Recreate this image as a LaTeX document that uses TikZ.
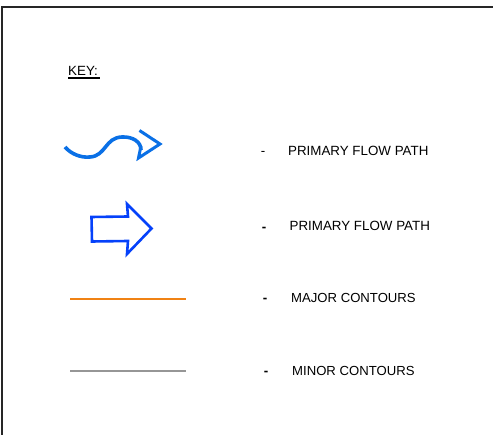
\documentclass[tikz,border=0pt]{standalone}
\usepackage{fontspec}
\setmainfont{Liberation Sans}
\definecolor{wavecol}{RGB}{10,112,230}
\definecolor{blockblue}{RGB}{5,65,250}
\definecolor{orangeline}{RGB}{240,130,20}
\definecolor{greyline}{RGB}{150,150,150}
\tikzset{
  lab/.style={inner sep=0pt,anchor=west,font=\fontsize{13.35}{15}\selectfont},
  labsmall/.style={inner sep=0pt,anchor=west,font=\fontsize{13.13}{15}\selectfont},
  dashmark/.style={inner sep=0pt,anchor=center,font=\fontsize{13.35}{15}\selectfont\bfseries},
  thindash/.style={inner sep=0pt,anchor=center,font=\fontsize{13.35}{15}\selectfont},
}
\begin{document}
\begin{tikzpicture}[x=1pt,y=-1pt]
\useasboundingbox (0,0) rectangle (493,435);
\fill[white] (0,0) rectangle (493,435);
\draw[line width=2pt,black!85] (1.5,435) -- (1.5,7) -- (493,7);
\node[lab] (key) at (68,70.5) {KEY:};
\fill[black] (67.5,77) rectangle (99.5,79);
% curved arrow
\draw[wavecol,line width=3.6pt] (65,147) .. controls (71,154) and (81,158) .. (90,157)
  .. controls (106,156) and (105,137.5) .. (122,137)
  .. controls (133,136.5) and (141,142) .. (141,150);
\draw[wavecol,line width=3pt,line join=miter] (139.5,130.5) -- (160,144) -- (138.5,158) -- (141,146);
% block arrow
\draw[blockblue,line width=2.6pt,line join=miter] (91.5,217) -- (128,216.5) -- (127,204) -- (151.5,228.5) -- (127,254) -- (128,241) -- (92,241.5) -- cycle;
% contours
\fill[orangeline] (70,298.5) rectangle (186,300.5);
\fill[greyline] (70,370) rectangle (186,372);
% dashes
\node[thindash] (d1) at (263,153) {-};
\node[dashmark] (d2) at (264,229) {-};
\node[dashmark] (d3) at (265,300) {-};
\node[dashmark] (d4) at (266,373) {-};
% labels
\node[lab] (t1) at (288,151) {PRIMARY FLOW PATH};
\node[lab] (t2) at (289.5,226) {PRIMARY FLOW PATH};
\node[labsmall] (t3) at (291,298) {MAJOR CONTOURS};
\node[labsmall] (t4) at (292,371) {MINOR CONTOURS};
\end{tikzpicture}
\end{document}
